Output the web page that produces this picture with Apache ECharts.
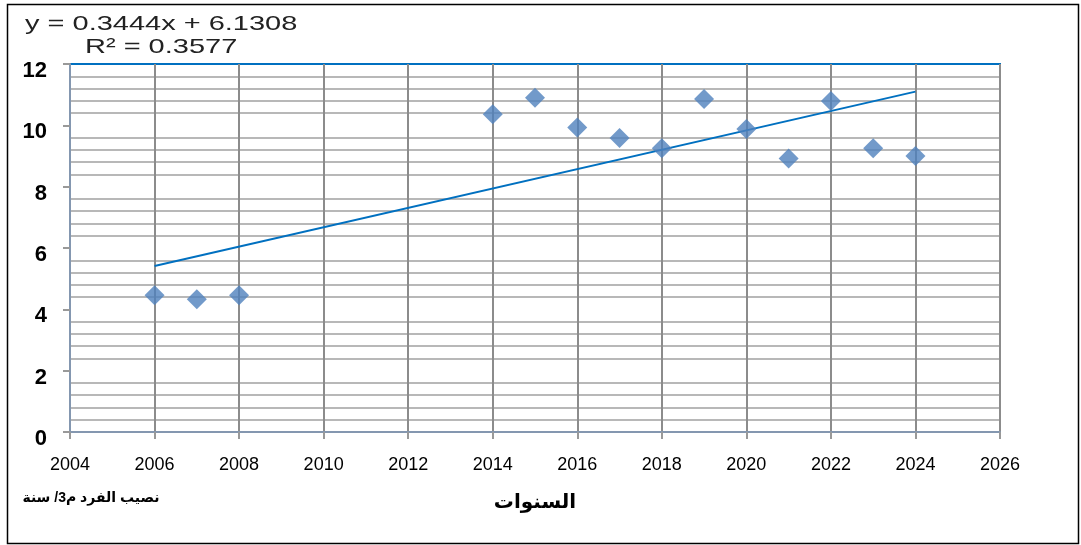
<!DOCTYPE html>
<html>
<head>
<meta charset="utf-8">
<script src="https://cdn.jsdelivr.net/npm/echarts@6/dist/echarts.min.js"></script>
<style>
  html, body { margin: 0; padding: 0; background: #fff; }
  #chart { width: 1081px; height: 545px; }
</style>
</head>
<body>
<div id="chart"></div>
<script>
// نصيب الفرد م3/ سنة
const years = [2006, 2007, 2008, 2014, 2015, 2016, 2017, 2018, 2019, 2020, 2021, 2022, 2023, 2024]
const shares = [4.46, 4.33, 4.46, 10.36, 10.9, 9.93, 9.59, 9.25, 10.86, 9.88, 8.92, 10.79, 9.25, 9.0]

// trend line ends
const trendYears = [2006, 2024]
const trendValues = [5.41, 11.1]

const equationText = 'y = 0.3444x + 6.1308'
const r2Text = 'R² = 0.3577'
const xName = 'السنوات'
const yName = 'نصيب الفرد م3/ سنة'

const chart = echarts.init(document.getElementById('chart'))

chart.setOption({
  backgroundColor: '#fff',
  animation: false,
  grid: {
    left: 70, right: 81, top: 64, bottom: 113,
    show: true,
    borderColor: '#0070C0',
    borderWidth: 2
  },
  xAxis: {
    type: 'value',
    min: 2004,
    max: 2026,
    interval: 2,
    name: xName,
    nameLocation: 'middle',
    nameGap: 60,
    nameTextStyle: { fontSize: 20, fontWeight: 'bold', color: '#000', fontFamily: '"Liberation Sans", "DejaVu Sans", sans-serif' },
    axisLine: { show: true, lineStyle: { color: '#8497b0', width: 2 } },
    axisTick: { show: true, length: 7, lineStyle: { color: '#999', width: 2 } },
    axisLabel: {
      formatter: (v) => String(v),
      margin: 24,
      fontSize: 18,
      color: '#000',
      fontFamily: '"Liberation Sans", sans-serif'
    },
    splitLine: { show: true, lineStyle: { color: '#8c8c8c', width: 2 } }
  },
  yAxis: {
    type: 'value',
    min: 0,
    max: 12,
    interval: 2,
    axisLine: { show: true, lineStyle: { color: '#8497b0', width: 2 } },
    axisTick: { show: true, length: 7, lineStyle: { color: '#999', width: 2 } },
    axisLabel: {
      margin: 23,
      fontSize: 22,
      fontWeight: 'bold',
      color: '#000',
      verticalAlign: 'top',
      lineHeight: 14,
      fontFamily: '"Liberation Sans", sans-serif'
    },
    splitLine: { show: false },
    minorTick: { show: false, splitNumber: 5 },
    minorSplitLine: { show: true, lineStyle: { color: '#b8b8b8', width: 2 } }
  },
  graphic: [
    {
      type: 'rect',
      shape: { x: 7.5, y: 4.5, width: 1071, height: 539 },
      style: { fill: 'none', stroke: '#000', lineWidth: 1.5 },
      silent: true
    },
    {
      type: 'text',
      x: 25, y: 24, scaleX: 1.38,
      style: { text: equationText, font: '21px "Liberation Sans", sans-serif', fill: '#222', verticalAlign: 'middle' }
    },
    {
      type: 'text',
      x: 85, y: 47, scaleX: 1.38,
      style: { text: r2Text, font: '21px "Liberation Sans", sans-serif', fill: '#222', verticalAlign: 'middle' }
    },
    {
      type: 'text',
      x: 91, y: 498,
      style: { text: yName, font: 'bold 14px "Liberation Sans", "DejaVu Sans", sans-serif', fill: '#000', align: 'center', verticalAlign: 'middle' }
    }
  ],
  series: [
    {
      name: 'trend',
      type: 'line',
      data: trendYears.map((y, i) => [y, trendValues[i]]),
      symbol: 'none',
      lineStyle: { color: '#0070C0', width: 2 },
      z: 3
    },
    {
      name: yName,
      type: 'scatter',
      data: years.map((y, i) => [y, shares[i]]),
      symbol: 'diamond',
      symbolSize: 20,
      itemStyle: { color: '#4F81BD' },
      z: 4
    }
  ]
})
</script>
</body>
</html>
